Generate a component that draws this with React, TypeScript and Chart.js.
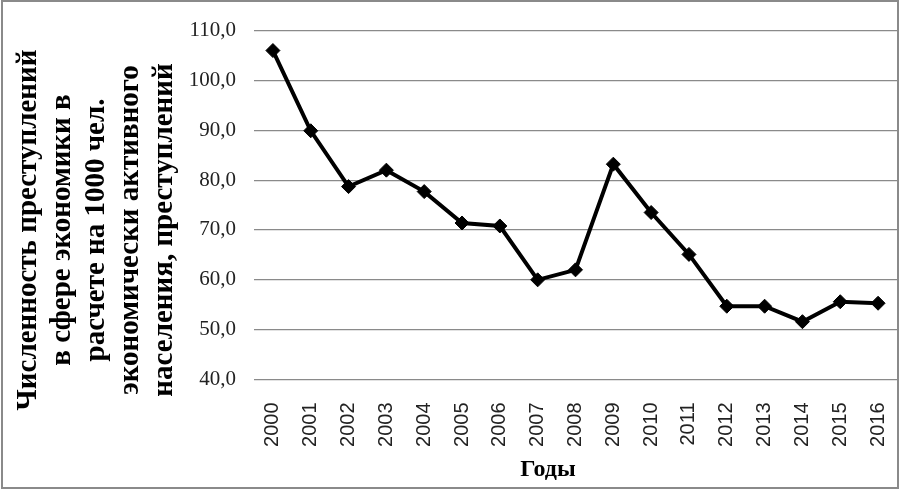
import React, { useEffect, useRef } from "react";
import { Chart, registerables } from "chart.js";

Chart.register(...registerables);

const years = ["2000", "2001", "2002", "2003", "2004", "2005", "2006", "2007", "2008", "2009", "2010", "2011", "2012", "2013", "2014", "2015", "2016"];
const crimes = [106.0, 89.9, 78.7, 82.0, 77.7, 71.4, 70.8, 60.0, 62.0, 83.2, 73.5, 65.1, 54.7, 54.7, 51.6, 55.6, 55.3];
const yTitleLines = [
  "Численность преступлений",
  "в сфере экономики в",
  "расчете на 1000 чел.",
  "экономически активного",
  "населения, преступлений",
];
const xTitle = "Годы";

const titlesPlugin = {
  id: "customTitles",
  afterDraw(chart: any) {
    const ctx = chart.ctx;
    ctx.save();
    ctx.fillStyle = "#000";
    ctx.font = "bold 29px 'Liberation Serif'";
    ctx.textAlign = "center";
    ctx.textBaseline = "middle";
    ctx.translate(29, 230);
    ctx.rotate(-Math.PI / 2);
    yTitleLines.forEach((line, i) => {
      ctx.fillText(line, 0, i * 34);
    });
    ctx.restore();
    ctx.save();
    ctx.fillStyle = "#000";
    ctx.font = "bold 24px 'Liberation Serif'";
    ctx.textAlign = "center";
    ctx.textBaseline = "middle";
    ctx.fillText(xTitle, 548, 470);
    ctx.restore();
  },
};

export default function App() {
  const ref = useRef<HTMLCanvasElement>(null);
  useEffect(() => {
    if (!ref.current) return;
    const chart = new Chart(ref.current, {
      type: "line",
      data: {
        labels: years,
        datasets: [
          {
            data: crimes,
            borderColor: "#000",
            backgroundColor: "#000",
            borderWidth: 4,
            pointStyle: "rectRot",
            pointRadius: 7,
            pointBorderWidth: 1,
            pointBackgroundColor: "#000",
            pointBorderColor: "#000",
            tension: 0,
          },
        ],
      },
      options: {
        responsive: false,
        animation: false,
        layout: { autoPadding: false, padding: { top: 30, right: 2, bottom: 0, left: 0 } },
        plugins: { legend: { display: false }, tooltip: { enabled: false } },
        scales: {
          x: {
            offset: true,
            grid: { display: false },
            border: { display: false },
            ticks: {
              minRotation: 90,
              maxRotation: 90,
              padding: 15,
              color: "#222",
              font: { family: "'Liberation Sans'", size: 20 },
            },
            afterFit(scale: any) {
              scale.height = 110.5;
              scale.paddingLeft = 0;
              scale.paddingRight = 0;
            },
          },
          y: {
            min: 40,
            max: 110,
            grid: { color: "#8a8a8a", lineWidth: 1.2, drawTicks: false },
            border: { display: false },
            ticks: {
              stepSize: 10,
              padding: 18,
              color: "#222",
              font: { family: "'Liberation Serif'", size: 21 },
              callback: (v: any) => Number(v).toFixed(1).replace(".", ","),
            },
            afterFit(scale: any) {
              scale.width = 254;
            },
          },
        },
      },
      plugins: [titlesPlugin],
    });
    return () => chart.destroy();
  }, []);
  return (
    <div style={{ position: "fixed", left: 0, top: 0, width: 899, height: 490, background: "#fff" }}>
      <canvas ref={ref} width={899} height={490} style={{ display: "block" }} />
      <div
        style={{
          position: "absolute",
          left: 1,
          top: 0,
          width: 898,
          height: 489,
          boxSizing: "border-box",
          border: "2px solid #8a8a8a",
          pointerEvents: "none",
        }}
      />
    </div>
  );
}
